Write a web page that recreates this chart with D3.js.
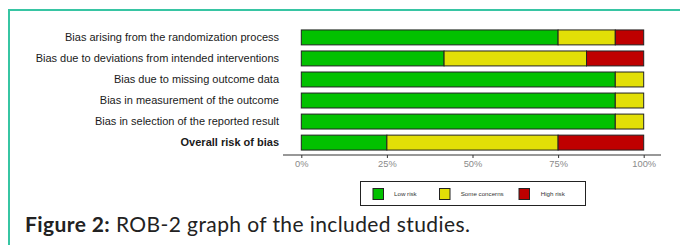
<!DOCTYPE html>
<html><head><meta charset="utf-8">
<script src="https://cdn.jsdelivr.net/npm/d3@7"></script>
<style>html,body{margin:0;padding:0;background:#fff;}svg{display:block;}</style>
</head><body>
<svg id="c" width="680" height="245"></svg>
<script>
const domains = [
  "Bias arising from the randomization process",
  "Bias due to deviations from intended interventions",
  "Bias due to missing outcome data",
  "Bias in measurement of the outcome",
  "Bias in selection of the reported result",
  "Overall risk of bias"
];
const lowRisk = [75, 41.7, 91.7, 91.7, 91.7, 25];
const someConcerns = [16.7, 41.6, 8.3, 8.3, 8.3, 50];
const highRisk = [8.3, 16.7, 0, 0, 0, 25];
const levels = ["Low risk", "Some concerns", "High risk"];
const colors = ["#02C100", "#E2DF07", "#BF0000"];
const ticks = [0, 25, 50, 75, 100];
const caption = {bold: "Figure 2:", rest: " ROB-2 graph of the included studies."};

const svg = d3.select("#c");

// frame
svg.append("path").attr("d", "M9,245 V10 H680").attr("fill", "none")
  .attr("stroke", "#37c5a3").attr("stroke-width", 2);

const x = d3.scaleLinear().domain([0, 100]).range([301.3, 643.7]);
const y = d3.scaleBand().domain(domains).range([27, 153]).paddingInner(0.29).paddingOuter(0.14);

const data = domains.map((d, i) => {
  const vals = [lowRisk[i], someConcerns[i], highRisk[i]];
  let acc = 0;
  return vals.map((v, j) => { const s = {domain: d, x0: acc, x1: acc + v, c: colors[j]}; acc += v; return s; });
}).flat().filter(s => s.x1 - s.x0 > 0);

svg.append("g").selectAll("rect").data(data).join("rect")
  .attr("x", d => x(d.x0)).attr("width", d => x(d.x1) - x(d.x0))
  .attr("y", d => y(d.domain)).attr("height", y.bandwidth())
  .attr("fill", d => d.c).attr("stroke", "#222").attr("stroke-width", 1);

// y labels
svg.append("g").selectAll("text").data(domains).join("text")
  .attr("x", 279).attr("y", d => y(d) + y.bandwidth() / 2)
  .attr("dy", "0.35em").attr("text-anchor", "end")
  .attr("font-family", "Liberation Sans, Arial, sans-serif").attr("font-size", 11)
  .attr("font-weight", (d, i) => i === domains.length - 1 ? "bold" : "normal")
  .attr("fill", "#1a1a1a").text(d => d);

// x axis
const ax = svg.append("g").attr("transform", "translate(0,155)")
  .call(d3.axisBottom(x).tickValues(ticks).tickFormat(d => d + "%").tickSize(3).tickSizeOuter(0).tickPadding(2));
ax.select(".domain").remove();
ax.append("line").attr("x1", 283).attr("x2", 661).attr("stroke", "#333").attr("stroke-width", 1.1);
ax.selectAll(".tick line").attr("stroke", "#333");
ax.selectAll(".tick text").attr("fill", "#8a8a8a").attr("font-size", 9.3)
  .attr("font-family", "Liberation Sans, Arial, sans-serif");

// legend
const lg = svg.append("g");
lg.append("rect").attr("x", 360.5).attr("y", 181.5).attr("width", 225).attr("height", 24)
  .attr("fill", "#fff").attr("stroke", "#222").attr("stroke-width", 1);
const keyX = [373, 439.5, 519];
const lblX = [394, 460.7, 540.7];
levels.forEach((l, i) => {
  lg.append("rect").attr("x", keyX[i]).attr("y", 188.5).attr("width", 10.5).attr("height", 11)
    .attr("fill", colors[i]).attr("stroke", "#222").attr("stroke-width", 1);
  lg.append("text").attr("x", lblX[i]).attr("y", 194).attr("dy", "0.35em")
    .attr("font-family", "Liberation Sans, Arial, sans-serif").attr("font-size", 6.2)
    .attr("fill", "#333").text(l);
});

// caption
const t = svg.append("text").attr("x", 25).attr("y", 232)
  .attr("font-family", "Lato, 'Open Sans', sans-serif").attr("font-size", 21)
  .attr("letter-spacing", 0.4).attr("fill", "#222");
t.append("tspan").attr("font-weight", "bold").text(caption.bold);
t.append("tspan").text(caption.rest);
</script>
</body></html>
